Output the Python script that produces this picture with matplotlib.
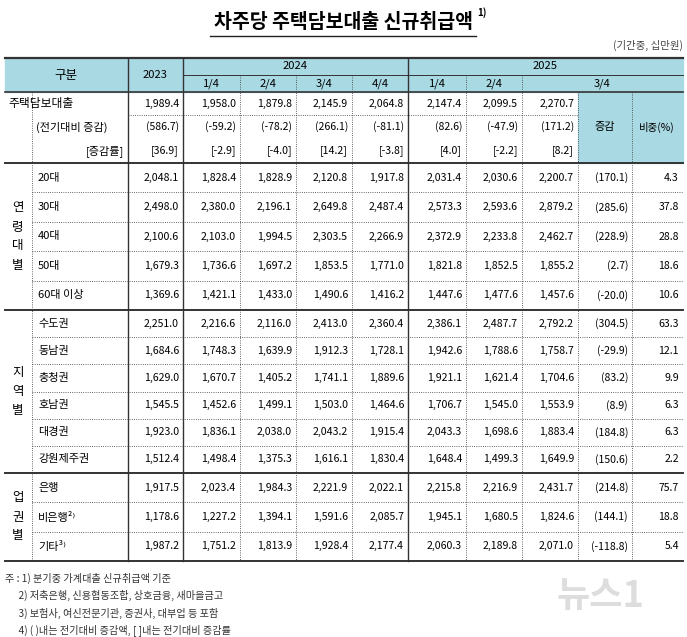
import matplotlib
matplotlib.use("Agg")
import matplotlib.pyplot as plt
from matplotlib.patches import Rectangle

plt.rcParams['font.family'] = ['Noto Sans CJK KR', 'DejaVu Sans']

title = "차주당 주택담보대출 신규취급액"
unit = "(기간중, 십만원)"
quarters_2024 = ["1/4", "2/4", "3/4", "4/4"]
quarters_2025 = ["1/4", "2/4", "3/4"]

total = ["1,989.4", "1,958.0", "1,879.8", "2,145.9", "2,064.8", "2,147.4", "2,099.5", "2,270.7"]
total_chg = ["(586.7)", "(-59.2)", "(-78.2)", "(266.1)", "(-81.1)", "(82.6)", "(-47.9)", "(171.2)"]
total_rate = ["[36.9]", "[-2.9]", "[-4.0]", "[14.2]", "[-3.8]", "[4.0]", "[-2.2]", "[8.2]"]

age_labels = ["20대", "30대", "40대", "50대", "60대 이상"]
age_vals = [
    ["2,048.1", "1,828.4", "1,828.9", "2,120.8", "1,917.8", "2,031.4", "2,030.6", "2,200.7", "(170.1)", "4.3"],
    ["2,498.0", "2,380.0", "2,196.1", "2,649.8", "2,487.4", "2,573.3", "2,593.6", "2,879.2", "(285.6)", "37.8"],
    ["2,100.6", "2,103.0", "1,994.5", "2,303.5", "2,266.9", "2,372.9", "2,233.8", "2,462.7", "(228.9)", "28.8"],
    ["1,679.3", "1,736.6", "1,697.2", "1,853.5", "1,771.0", "1,821.8", "1,852.5", "1,855.2", "(2.7)", "18.6"],
    ["1,369.6", "1,421.1", "1,433.0", "1,490.6", "1,416.2", "1,447.6", "1,477.6", "1,457.6", "(-20.0)", "10.6"],
]
region_labels = ["수도권", "동남권", "충청권", "호남권", "대경권", "강원제주권"]
region_vals = [
    ["2,251.0", "2,216.6", "2,116.0", "2,413.0", "2,360.4", "2,386.1", "2,487.7", "2,792.2", "(304.5)", "63.3"],
    ["1,684.6", "1,748.3", "1,639.9", "1,912.3", "1,728.1", "1,942.6", "1,788.6", "1,758.7", "(-29.9)", "12.1"],
    ["1,629.0", "1,670.7", "1,405.2", "1,741.1", "1,889.6", "1,921.1", "1,621.4", "1,704.6", "(83.2)", "9.9"],
    ["1,545.5", "1,452.6", "1,499.1", "1,503.0", "1,464.6", "1,706.7", "1,545.0", "1,553.9", "(8.9)", "6.3"],
    ["1,923.0", "1,836.1", "2,038.0", "2,043.2", "1,915.4", "2,043.3", "1,698.6", "1,883.4", "(184.8)", "6.3"],
    ["1,512.4", "1,498.4", "1,375.3", "1,616.1", "1,830.4", "1,648.4", "1,499.3", "1,649.9", "(150.6)", "2.2"],
]
biz_labels = ["은행", "비은행²⁾", "기타³⁾"]
biz_vals = [
    ["1,917.5", "2,023.4", "1,984.3", "2,221.9", "2,022.1", "2,215.8", "2,216.9", "2,431.7", "(214.8)", "75.7"],
    ["1,178.6", "1,227.2", "1,394.1", "1,591.6", "2,085.7", "1,945.1", "1,680.5", "1,824.6", "(144.1)", "18.8"],
    ["1,987.2", "1,751.2", "1,813.9", "1,928.4", "2,177.4", "2,060.3", "2,189.8", "2,071.0", "(-118.8)", "5.4"],
]
notes = ["주 : 1) 분기중 가계대출 신규취급액 기준",
         "      2) 저축은행, 신용협동조합, 상호금융, 새마을금고",
         "      3) 보험사, 여신전문기관, 증권사, 대부업 등 포함",
         "      4) ( )내는 전기대비 증감액, [ ]내는 전기대비 증감률"]

W, H = 687, 637
fig = plt.figure(figsize=(W/100, H/100), dpi=100)
ax = fig.add_axes([0, 0, 1, 1])
ax.set_xlim(0, W); ax.set_ylim(H, 0); ax.axis('off')

HDR = '#a9d9e2'
xs = [5, 32, 128, 183, 240, 296, 352, 408, 466, 522, 578, 632, 683]
fs = 7.6

ax.add_patch(Rectangle((5, 58), 678, 34, color=HDR, zorder=0))
ax.add_patch(Rectangle((578, 92), 105, 71, color=HDR, zorder=0))

def hline(y, x0=5, x1=683, lw=1.0, ls='-'):
    ax.plot([x0, x1], [y, y], color='#333', lw=lw, ls=ls, zorder=2)
def vline(x, y0, y1, lw=1.0, ls='-'):
    ax.plot([x, x], [y0, y1], color='#333', lw=lw, ls=ls, zorder=2)

ax.text(343, 22, title, ha='center', va='center', fontsize=14, fontweight='bold')
ax.plot([210, 476], [36, 36], color='#222', lw=1)
ax.text(477, 13, "1)", fontsize=7, fontweight='bold', va='center')
ax.text(683, 45, unit, ha='right', va='center', fontsize=7.5, color='#444')

hline(58, lw=1.6); hline(92, lw=1.2)
hline(75, 183, 683, lw=0.7)
ax.text(66, 75, "구분", ha='center', va='center', fontsize=9)
ax.text(155, 75, "2023", ha='center', va='center', fontsize=fs+0.5)
ax.text(295, 66, "2024", ha='center', va='center', fontsize=fs+0.5)
ax.text(545, 66, "2025", ha='center', va='center', fontsize=fs+0.5)
for i, q in enumerate(quarters_2024):
    ax.text((xs[3+i]+xs[4+i])/2, 84, q, ha='center', va='center', fontsize=fs+0.5)
for i, q in enumerate(quarters_2025[:2]):
    ax.text((xs[7+i]+xs[8+i])/2, 84, q, ha='center', va='center', fontsize=fs+0.5)
ax.text((522+683)/2, 84, quarters_2025[2], ha='center', va='center', fontsize=fs+0.5)
ax.text(605, 127, "증감", ha='center', va='center', fontsize=8)
ax.text(657, 127, "비중(%)", ha='center', va='center', fontsize=7.5)

def row_vals(vals, y):
    for j, v in enumerate(vals):
        ax.text(xs[3+j]-4, y, v, ha='right', va='center', fontsize=fs)

ys_tot = [104, 127, 151]
ax.text(8, 104, "주택담보대출", ha='left', va='center', fontsize=8.5)
ax.text(36, 127, "(전기대비 증감)", ha='left', va='center', fontsize=8)
ax.text(124, 151, "[증감률]", ha='right', va='center', fontsize=8)
for vals, y in zip([total, total_chg, total_rate], ys_tot):
    row_vals(vals, y)
hline(115, 128, 578, lw=0.6, ls=':')
hline(163, lw=1.4)

def block(labels, rows, y0, y1, group):
    n = len(labels); h = (y1 - y0)/n
    for i, (lab, vals) in enumerate(zip(labels, rows)):
        y = y0 + h*(i+0.5)
        ax.text(38, y, lab, ha='left', va='center', fontsize=8)
        row_vals(vals, y)
        if i > 0:
            hline(y0 + h*i, 32, 683, lw=0.6, ls=':')
    gy = (y0+y1)/2; gh = 19
    for k, ch in enumerate(group):
        ax.text(18, gy + (k-(len(group)-1)/2)*gh, ch, ha='center', va='center', fontsize=9)
    hline(y1, lw=1.4)

block(age_labels, age_vals, 163, 310, "연령대별")
block(region_labels, region_vals, 310, 473, "지역별")
block(biz_labels, biz_vals, 473, 561, "업권별")

vline(xs[1], 92, 561, lw=0.6, ls=':')
for x in [128, 183, 408]:
    vline(x, 58, 561, lw=1.0)
for x in [240, 296, 352]:
    vline(x, 75, 561, lw=0.6, ls=':')
for x in [466, 522]:
    vline(x, 75, 561, lw=0.6, ls=':')
for x in [578, 632]:
    vline(x, 92, 561, lw=0.6, ls=':')

for k, t in enumerate(notes):
    ax.text(5, 578 + k*17.5, t, ha='left', va='center', fontsize=7.3, color='#333')

ax.text(600, 597, "뉴스1", ha='center', va='center', fontsize=26, color='#dddddd', style='italic', fontweight='bold', zorder=1)

fig.savefig("out.png", dpi=100)
